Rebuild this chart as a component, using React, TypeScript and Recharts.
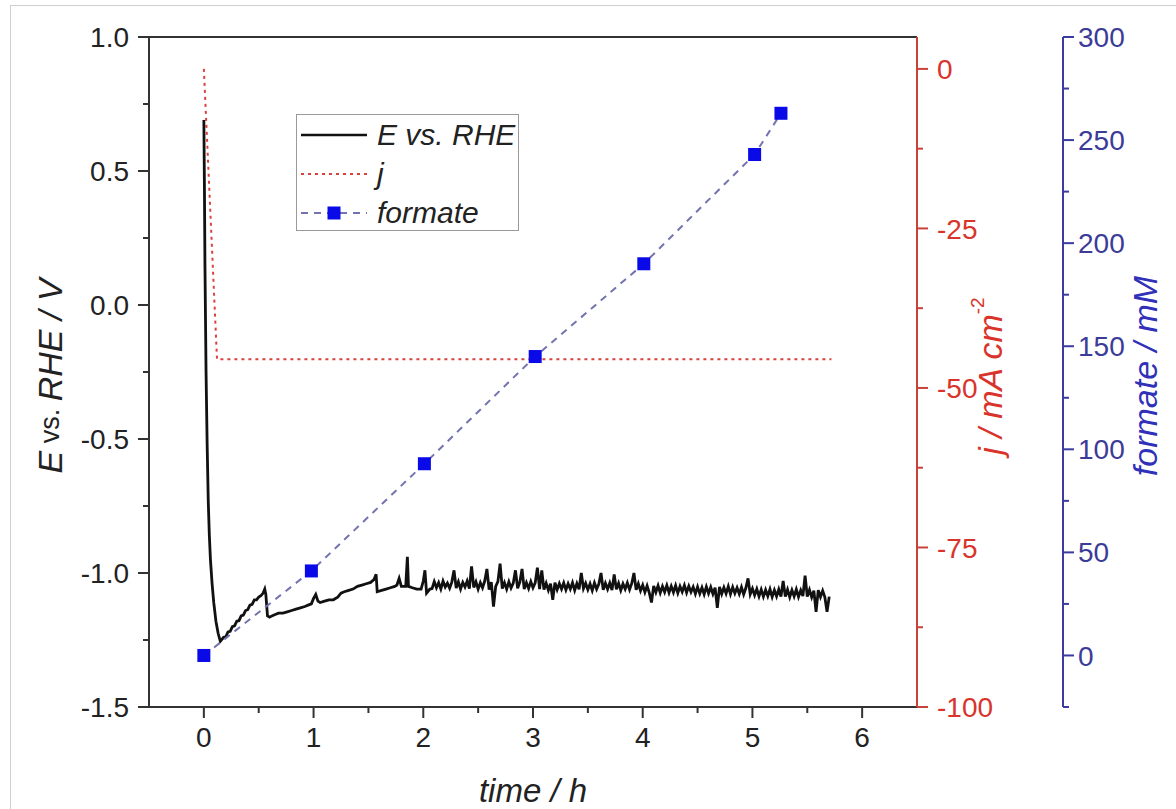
import { ComposedChart, Line, XAxis, YAxis, Legend, ReferenceLine } from "recharts";

const FONT = "'Liberation Sans', Arial, Helvetica, sans-serif";

// tick values
const timeMajor = [0, 1, 2, 3, 4, 5, 6];
const timeMinor = [0.5, 1.5, 2.5, 3.5, 4.5, 5.5];
const potentialMajor = [-1.5, -1.0, -0.5, 0.0, 0.5, 1.0];
const potentialMinor = [-1.25, -0.75, -0.25, 0.25, 0.75];
const currentMajor = [-100, -75, -50, -25, 0];
const currentMinor = [-87.5, -62.5, -37.5, -12.5];
const formateMajor = [0, 50, 100, 150, 200, 250, 300];
const formateMinor = [-25, 25, 75, 125, 175, 225, 275];

// formate samples (mM)
const formateTime = [0, 0.98, 2.01, 3.02, 4.01, 5.02, 5.26];
const formateConc = [0, 41, 93, 145, 190, 243, 263];

// current density (mA cm-2)
const currentTime = [0, 0.12, 5.72];
const currentDensity = [0, -45.5, -45.5];

// E vs. RHE, first two hours read point by point
const potentialStart: [number, number][] = [
  [0, 0.69], [0.005, 0.45], [0.01, 0.15], [0.02, -0.25], [0.03, -0.52],
  [0.04, -0.73], [0.05, -0.86], [0.06, -0.95], [0.075, -1.04], [0.09, -1.11],
  [0.11, -1.18], [0.13, -1.225], [0.15, -1.255],
  [0.18, -1.24], [0.2, -1.238], [0.22, -1.22], [0.24, -1.218], [0.26, -1.2],
  [0.28, -1.197], [0.3, -1.18], [0.32, -1.178], [0.34, -1.16], [0.36, -1.157],
  [0.38, -1.14], [0.4, -1.137], [0.42, -1.12], [0.44, -1.117], [0.46, -1.1],
  [0.48, -1.1], [0.5, -1.09], [0.52, -1.085], [0.54, -1.075], [0.555, -1.06],
  [0.565, -1.08], [0.58, -1.16], [0.6, -1.165], [0.62, -1.16], [0.65, -1.155],
  [0.68, -1.15], [0.72, -1.15], [0.76, -1.145], [0.8, -1.14], [0.84, -1.135],
  [0.88, -1.13], [0.92, -1.125], [0.95, -1.12], [0.98, -1.115], [1.0, -1.095],
  [1.02, -1.08], [1.04, -1.105], [1.06, -1.11], [1.1, -1.105], [1.14, -1.1],
  [1.18, -1.1], [1.22, -1.09], [1.25, -1.075], [1.28, -1.07], [1.32, -1.065],
  [1.36, -1.06], [1.4, -1.05], [1.44, -1.045], [1.48, -1.04], [1.52, -1.035],
  [1.55, -1.025], [1.57, -1.005], [1.58, -1.07], [1.62, -1.065], [1.66, -1.06],
  [1.7, -1.055], [1.74, -1.05], [1.76, -1.045], [1.78, -1.02], [1.8, -1.05],
  [1.84, -1.05], [1.855, -0.94], [1.865, -1.05], [1.9, -1.055], [1.94, -1.06],
  [1.98, -1.06], [2.0, -1.03], [2.015, -0.99], [2.03, -1.075], [2.06, -1.06],
];

// E vs. RHE after 2.06 h, one reading every 0.02 h
const potentialTailStart = 2.08;
const potentialTailStep = 0.02;
const potentialTail = [
  -1.058, -1.032, -1.055, -1.036, -1.06, -1.03, -1.052, -1.038, -1.057, -1.034,
  -0.99, -1.056, -1.033, -1.06, -1.035, -1.052, -1.03, -1.058, -0.975, -1.054,
  -1.033, -1.06, -1.036, -1.055, -1.03, -0.985, -1.062, -1.034, -1.125, -1.05,
  -1.032, -0.965, -1.058, -1.036, -1.06, -1.033, -1.056, -1.038, -0.99, -1.057,
  -1.034, -0.985, -1.06, -1.036, -1.058, -1.032, -1.055, -1.037, -0.98, -1.06,
  -0.99, -1.062, -1.038, -1.064, -1.04, -1.1, -1.036, -1.062, -1.039, -1.06,
  -1.037, -1.063, -1.04, -1.06, -1.036, -1.065, -1.039, -1.061, -1.0, -1.058,
  -1.038, -1.062, -1.04, -1.065, -1.037, -1.06, -1.041, -1.0, -1.063, -1.038,
  -1.06, -1.037, -1.064, -1.005, -1.061, -1.038, -1.065, -1.04, -1.06, -1.037,
  -1.062, -1.039, -1.0, -1.063, -1.04, -1.066, -1.045, -1.072, -1.048, -1.074,
  -1.11, -1.048, -1.072, -1.047, -1.074, -1.05, -1.071, -1.046, -1.073, -1.049,
  -1.072, -1.047, -1.075, -1.05, -1.07, -1.046, -1.073, -1.049, -1.071, -1.052,
  -1.078, -1.052, -1.077, -1.054, -1.079, -1.051, -1.076, -1.053, -1.078, -1.055,
  -1.13, -1.052, -1.078, -1.054, -1.077, -1.05, -1.079, -1.053, -1.076, -1.055,
  -1.078, -1.053, -1.08, -1.056, -1.02, -1.079, -1.058, -1.083, -1.06, -1.087,
  -1.062, -1.088, -1.063, -1.086, -1.06, -1.089, -1.064, -1.087, -1.061, -1.088,
  -1.03, -1.088, -1.062, -1.09, -1.064, -1.087, -1.061, -1.089, -1.065, -1.086,
  -1.01, -1.088, -1.063, -1.09, -1.066, -1.145, -1.064, -1.089, -1.066, -1.09,
  -1.145, -1.088,
];

const formateData = formateTime.map((t, i) => ({ t, v: formateConc[i] }));
const currentData = currentTime.map((t, i) => ({ t, v: currentDensity[i] }));
const potentialData = [
  ...potentialStart.map(([t, v]) => ({ t, v })),
  ...potentialTail.map((v, i) => ({
    t: +(potentialTailStart + i * potentialTailStep).toFixed(3),
    v,
  })),
];

const near = (a: number, list: number[]) => list.some((b) => Math.abs(a - b) < 1e-6);

const AxisTick = (props: any) => {
  const { x, y, payload, side, majors, lineColor, textColor, gap, fmt } = props;
  const v = payload.value;
  const major = near(v, majors);
  const len = major ? 11 : 6;
  const label = major ? fmt(v) : null;
  if (side === "bottom") {
    return (
      <g>
        <line x1={x} y1={y} x2={x} y2={y + len} stroke={lineColor} strokeWidth={2} />
        {label !== null && (
          <text x={x} y={y + 40} textAnchor="middle" fill={textColor} fontSize={28} fontFamily={FONT}>
            {label}
          </text>
        )}
      </g>
    );
  }
  const dir = side === "left" ? -1 : 1;
  return (
    <g>
      <line x1={x} y1={y} x2={x + dir * len} y2={y} stroke={lineColor} strokeWidth={2} />
      {label !== null && (
        <text
          x={x + dir * gap}
          y={y}
          dy="0.36em"
          textAnchor={side === "left" ? "end" : "start"}
          fill={textColor}
          fontSize={28}
          fontFamily={FONT}
        >
          {label}
        </text>
      )}
    </g>
  );
};

const RotatedTitle = (props: any) => {
  const { viewBox, offsetX, color, children } = props;
  const cx = viewBox.x + offsetX;
  const cy = 376;
  return (
    <text
      x={cx}
      y={cy}
      transform={`rotate(-90 ${cx} ${cy})`}
      textAnchor="middle"
      dominantBaseline="central"
      fill={color}
      fontSize={34}
      fontFamily={FONT}
    >
      {children}
    </text>
  );
};

const TimeTitle = (props: any) => {
  const { viewBox } = props;
  return (
    <text
      x={viewBox.x + viewBox.width / 2}
      y={viewBox.y + 95}
      textAnchor="middle"
      fill="#222"
      fontSize={33}
      fontStyle="italic"
      fontFamily={FONT}
    >
      time / h
    </text>
  );
};

const SquareDot = (props: any) => {
  const { cx, cy } = props;
  if (cx == null || cy == null) return null;
  return <rect x={cx - 6.5} y={cy - 6.5} width={13} height={13} fill="#0a0ae8" />;
};

const LegendBox = () => {
  const row = { display: "flex", alignItems: "center", height: 39 } as const;
  return (
    <div
      style={{
        width: 223,
        height: 117,
        boxSizing: "border-box",
        border: "1.5px solid #9a9a9a",
        background: "#fff",
        paddingLeft: 4,
        fontFamily: FONT,
        fontStyle: "italic",
        fontSize: 30,
        color: "#222",
        lineHeight: 1,
      }}
    >
      <div style={row}>
        <svg width={66} height={20}>
          <line x1={0} y1={10} x2={66} y2={10} stroke="#111" strokeWidth={2.6} />
        </svg>
        <span style={{ marginLeft: 10 }}>E vs. RHE</span>
      </div>
      <div style={row}>
        <svg width={66} height={20}>
          <line x1={0} y1={10} x2={66} y2={10} stroke="#d9423c" strokeWidth={2} strokeDasharray="3 4" />
        </svg>
        <span style={{ marginLeft: 10 }}>j</span>
      </div>
      <div style={row}>
        <svg width={66} height={20}>
          <line x1={0} y1={10} x2={66} y2={10} stroke="#7373b0" strokeWidth={2} strokeDasharray="7 6" />
          <rect x={26.5} y={3.5} width={13} height={13} fill="#0a0ae8" />
        </svg>
        <span style={{ marginLeft: 10 }}>formate</span>
      </div>
    </div>
  );
};

export default function App() {
  return (
    <div
      style={{
        position: "absolute",
        left: 0,
        top: 0,
        width: 1176,
        height: 809,
        background: "#fff",
        overflow: "hidden",
      }}
    >
      <div
        style={{
          position: "absolute",
          left: 10,
          top: 5,
          width: 1300,
          height: 900,
          border: "1px solid #cfcfcf",
        }}
      />
      <ComposedChart
        width={1176}
        height={809}
        margin={{ top: 37, right: 13, bottom: 12, left: 0 }}
      >
        <XAxis
          dataKey="t"
          type="number"
          domain={[-0.5, 6.5]}
          allowDataOverflow
          ticks={[...timeMajor, ...timeMinor].sort((a, b) => a - b)}
          interval={0}
          height={90}
          tickSize={0}
          tickMargin={0}
          tickLine={false}
          axisLine={{ stroke: "#333", strokeWidth: 2 }}
          tick={
            <AxisTick side="bottom" majors={timeMajor} lineColor="#333" textColor="#222" gap={0} fmt={(v: number) => String(v)} />
          }
          label={<TimeTitle />}
        />
        <YAxis
          yAxisId="a_pot"
          orientation="left"
          type="number"
          domain={[-1.5, 1.0]}
          allowDataOverflow
          width={149}
          ticks={[...potentialMajor, ...potentialMinor].sort((a, b) => a - b)}
          interval={0}
          tickSize={0}
          tickMargin={0}
          tickLine={false}
          axisLine={{ stroke: "#333", strokeWidth: 2 }}
          tick={
            <AxisTick side="left" majors={potentialMajor} lineColor="#333" textColor="#222" gap={20} fmt={(v: number) => v.toFixed(1)} />
          }
          label={
            <RotatedTitle offsetX={50} color="#222">
              <tspan fontStyle="italic">E</tspan>
              <tspan fontSize={27}> vs. </tspan>
              <tspan fontStyle="italic">RHE / V</tspan>
            </RotatedTitle>
          }
        />
        <YAxis
          yAxisId="b_cur"
          orientation="right"
          type="number"
          domain={[-100, 5]}
          allowDataOverflow
          width={146}
          ticks={[...currentMajor, ...currentMinor].sort((a, b) => a - b)}
          interval={0}
          tickSize={0}
          tickMargin={0}
          tickLine={false}
          axisLine={{ stroke: "#c9423a", strokeWidth: 2 }}
          tick={
            <AxisTick side="right" majors={currentMajor} lineColor="#c9423a" textColor="#d9342b" gap={20} fmt={(v: number) => String(v)} />
          }
          label={
            <RotatedTitle offsetX={73} color="#d9342b">
              <tspan fontStyle="italic">j / mA cm</tspan>
              <tspan fontSize={19} dy={-13}>-2</tspan>
            </RotatedTitle>
          }
        />
        <YAxis
          yAxisId="c_form"
          orientation="right"
          type="number"
          domain={[-25, 300]}
          allowDataOverflow
          width={100}
          ticks={[...formateMajor, ...formateMinor].sort((a, b) => a - b)}
          interval={0}
          tickSize={0}
          tickMargin={0}
          tickLine={false}
          axisLine={{ stroke: "#3b3ba0", strokeWidth: 2 }}
          tick={
            <AxisTick side="right" majors={formateMajor} lineColor="#3b3ba0" textColor="#3b3b98" gap={15} fmt={(v: number) => String(v)} />
          }
          label={
            <RotatedTitle offsetX={82} color="#3030b8">
              <tspan fontStyle="italic">formate / mM</tspan>
            </RotatedTitle>
          }
        />
        <ReferenceLine yAxisId="a_pot" y={1.0} stroke="#333" strokeWidth={2} />
        <Line
          yAxisId="b_cur"
          data={currentData}
          dataKey="v"
          type="linear"
          stroke="#d9423c"
          strokeWidth={2}
          strokeDasharray="3 4"
          dot={false}
          isAnimationActive={false}
        />
        <Line
          yAxisId="a_pot"
          data={potentialData}
          dataKey="v"
          type="linear"
          stroke="#111"
          strokeWidth={2.8}
          dot={false}
          isAnimationActive={false}
        />
        <Line
          yAxisId="c_form"
          data={formateData}
          dataKey="v"
          type="linear"
          stroke="#7373b0"
          strokeWidth={2}
          strokeDasharray="7 6"
          dot={<SquareDot />}
          isAnimationActive={false}
        />
        <Legend
          layout="vertical"
          align="center"
          verticalAlign="middle"
          wrapperStyle={{ left: 296, top: 114, width: 223 }}
          content={() => <LegendBox />}
        />
      </ComposedChart>
    </div>
  );
}
